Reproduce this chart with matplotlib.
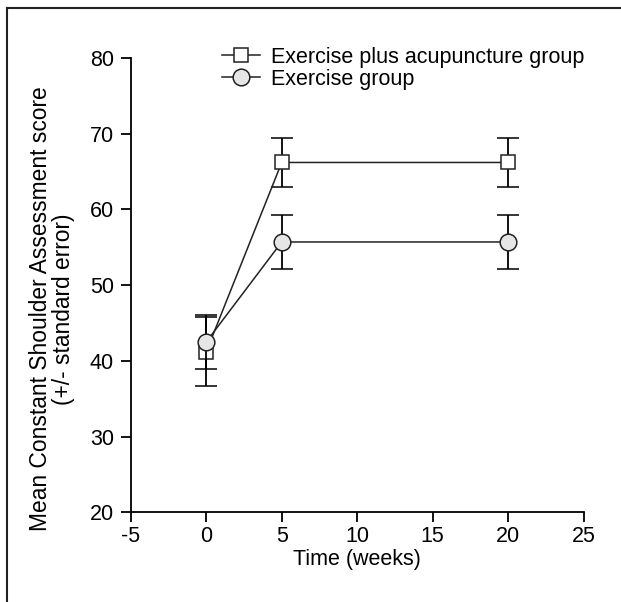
import matplotlib
matplotlib.use("Agg")
import matplotlib.pyplot as plt
from matplotlib.lines import Line2D

plt.rcParams['font.family'] = ['Liberation Sans', 'DejaVu Sans']

# data
weeks = [0, 5, 20]
acu_mean = [41.2, 66.2, 66.2]
acu_err = [4.55, 3.2, 3.2]
ex_mean = [42.5, 55.7, 55.7]
ex_err = [3.55, 3.6, 3.6]
acu_label = 'Exercise plus acupuncture group'
ex_label = 'Exercise group'
xticks = [-5, 0, 5, 10, 15, 20, 25]
yticks = [20, 30, 40, 50, 60, 70, 80]

fig = plt.figure(figsize=(6.21, 6.02), dpi=100)
ax = fig.add_axes([0.2105, 0.149, 0.7295, 0.7547])

ax.errorbar(weeks, acu_mean, yerr=acu_err, color='#222222', ecolor='black',
            lw=1.1, elinewidth=1.3, capsize=8, capthick=1.3,
            marker='s', ms=10, mfc='white', mec='#222222', mew=1.1,
            label=acu_label, zorder=3)
ax.errorbar(weeks, ex_mean, yerr=ex_err, color='#222222', ecolor='black',
            lw=1.1, elinewidth=1.3, capsize=8, capthick=1.3,
            marker='o', ms=12, mfc='#e6e6e6', mec='#222222', mew=1.1,
            label=ex_label, zorder=4)

ax.set_xlim(-5, 25)
ax.set_ylim(20, 80)
ax.set_xticks(xticks)
ax.set_xticklabels([str(t) for t in xticks])
ax.set_yticks(yticks)
ax.spines['top'].set_visible(False)
ax.spines['right'].set_visible(False)
for s in ['left', 'bottom']:
    ax.spines[s].set_linewidth(1.3)
ax.tick_params(direction='out', length=7, width=1.3, labelsize=15.5, pad=3)
ax.tick_params(axis='y', pad=5)

ax.set_xlabel('Time (weeks)', fontsize=15.5, labelpad=1)
ax.set_ylabel('Mean Constant Shoulder Assessment score\n(+/- standard error)',
              fontsize=16.4, labelpad=10, linespacing=1.05)
ax.yaxis.set_label_coords(-0.122, 0.448)

h, l = ax.get_legend_handles_labels()
h = [hh[0] for hh in h]
ax.legend(h, l, loc='upper left', bbox_to_anchor=(0.357, 0.922, 0, 0),
          bbox_transform=fig.transFigure, frameon=False, fontsize=15.5,
          handlelength=1.8, handletextpad=0.5, labelspacing=0.05,
          borderaxespad=0, borderpad=0)

# frame drawn around the figure (cropped at right and bottom)
fig.add_artist(Line2D([7 / 621, 1.0], [1 - 8 / 602, 1 - 8 / 602],
                      transform=fig.transFigure, color='#222222', lw=1.5))
fig.add_artist(Line2D([7 / 621, 7 / 621], [0.0, 1 - 8 / 602],
                      transform=fig.transFigure, color='#222222', lw=1.5))

fig.savefig('out.png', dpi=100)
